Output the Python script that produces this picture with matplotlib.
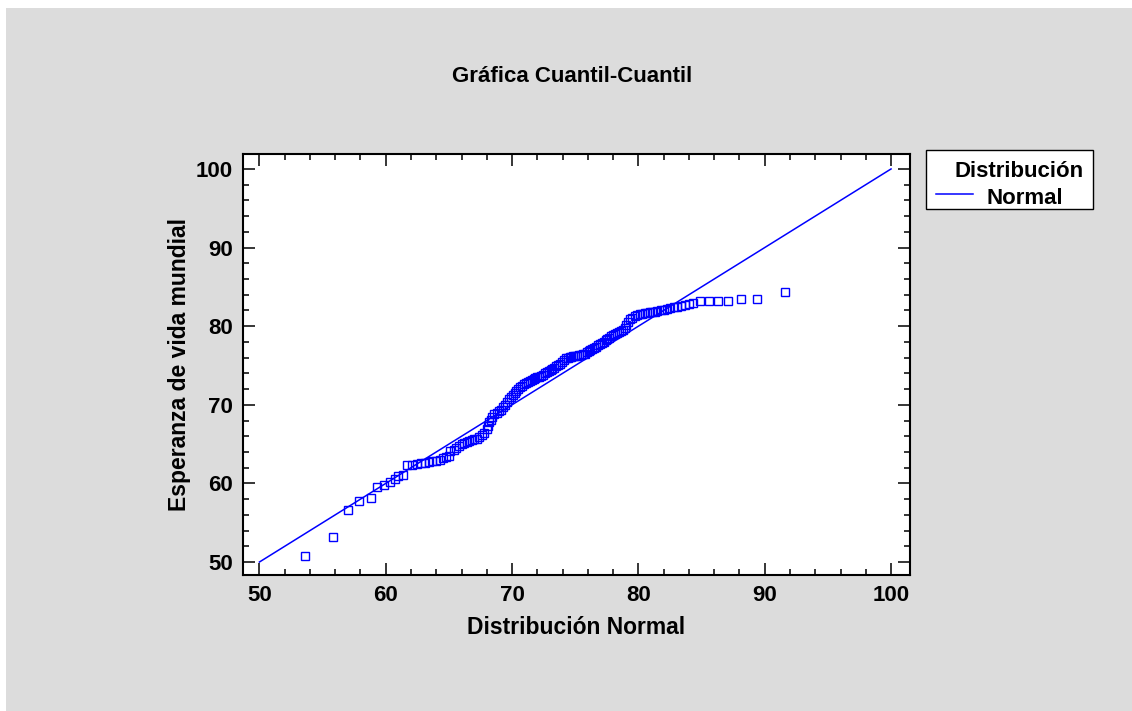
import matplotlib
matplotlib.use("Agg")
import matplotlib.pyplot as plt
from matplotlib.lines import Line2D
from matplotlib.patches import Rectangle
from matplotlib.ticker import MultipleLocator

normal_q = [53.6, 55.8, 57.0, 57.9, 58.8, 59.3, 59.9, 60.3, 60.7, 61.0, 61.4, 61.7,
            62.1, 62.5, 62.8, 63.1, 63.4, 63.7, 64.0, 64.3, 64.5, 64.8, 65.0, 65.1,
            65.4, 65.6, 65.8, 66.0, 66.2, 66.4, 66.6, 66.8, 67.0, 67.2, 67.4, 67.6,
            67.8, 68.0, 68.1, 68.2, 68.3, 68.45, 68.6, 68.8, 68.95, 69.1, 69.3, 69.45,
            69.6, 69.75, 69.9, 70.05, 70.2, 70.35, 70.5, 70.65, 70.8, 70.95, 71.1, 71.25,
            71.4, 71.55, 71.7, 71.85, 72.0, 72.15, 72.3, 72.45, 72.6, 72.75, 72.9, 73.05,
            73.2, 73.35, 73.5, 73.65, 73.8, 73.95, 74.1, 74.25, 74.4, 74.55, 74.7, 74.85,
            75.0, 75.15, 75.3, 75.45, 75.6, 75.75, 75.9, 76.05, 76.2, 76.35, 76.5, 76.65,
            76.8, 76.95, 77.1, 77.25, 77.4, 77.55, 77.7, 77.85, 78.0, 78.15, 78.3, 78.45,
            78.6, 78.75, 78.9, 79.05, 79.2, 79.35, 79.5, 79.7, 79.9, 80.1, 80.3, 80.5,
            80.7, 80.9, 81.1, 81.3, 81.5, 81.75, 82.0, 82.25, 82.5, 82.8, 83.05, 83.35,
            83.65, 84.0, 84.35, 84.9, 85.55, 86.3, 87.1, 88.1, 89.35, 91.6]
life_exp = [50.8, 53.2, 56.6, 57.8, 58.2, 59.5, 59.8, 60.2, 60.6, 60.9, 61.1, 62.3,
            62.4, 62.5, 62.6, 62.6, 62.7, 62.8, 62.9, 63.0, 63.2, 63.3, 63.5, 64.1,
            64.3, 64.5, 64.8, 65.0, 65.2, 65.3, 65.4, 65.5, 65.6, 65.7, 65.9, 66.1,
            66.4, 66.9, 67.3, 67.8, 68.1, 68.5, 68.8, 69.0, 69.2, 69.4, 69.7, 70.0,
            70.4, 70.7, 71.0, 71.2, 71.5, 71.7, 72.0, 72.2, 72.4, 72.6, 72.8, 72.9,
            73.0, 73.1, 73.3, 73.4, 73.5, 73.55, 73.6, 73.8, 74.0, 74.2, 74.3, 74.4,
            74.5, 74.7, 74.9, 75.0, 75.2, 75.5, 75.7, 75.9, 76.0, 76.05, 76.1, 76.15,
            76.2, 76.25, 76.3, 76.35, 76.4, 76.5, 76.7, 76.8, 76.95, 77.1, 77.25, 77.4,
            77.55, 77.7, 77.85, 78.0, 78.2, 78.4, 78.55, 78.7, 78.85, 79.0, 79.1, 79.25,
            79.4, 79.55, 79.8, 80.1, 80.5, 80.9, 81.1, 81.3, 81.4, 81.5, 81.6, 81.65,
            81.7, 81.75, 81.8, 81.85, 81.9, 82.0, 82.1, 82.2, 82.3, 82.4, 82.45, 82.6,
            82.7, 82.8, 82.9, 83.2, 83.2, 83.2, 83.2, 83.4, 83.4, 84.3]

# reference line of the fitted normal
line_x = [50, 100]
line_y = [50, 100]

blue = "#0000ff"
gray = "#dcdcdc"
plt.rcParams["font.family"] = ["Liberation Sans", "DejaVu Sans"]
plt.rcParams["font.weight"] = "bold"

W, H = 1132, 711


def fx(px):
    return px / W


def fy(py):
    return 1 - py / H


fig = plt.figure(figsize=(W / 100, H / 100), dpi=100, facecolor="white")
fig.add_artist(Rectangle((fx(6), 0), 1, fy(8), transform=fig.transFigure,
                         facecolor=gray, edgecolor="none", zorder=-10))

ax = fig.add_axes([fx(243), fy(575), 667 / W, 421 / H])
ax.set_facecolor("white")

ax.plot(line_x, line_y, color=blue, lw=1.1)
ax.plot(normal_q, life_exp, ls="none", marker="s", ms=5.5, mfc="none",
        mec=blue, mew=1.0)

ax.set_xlim(48.7, 101.5)
ax.set_ylim(48.35, 101.9)
ax.xaxis.set_major_locator(MultipleLocator(10))
ax.xaxis.set_minor_locator(MultipleLocator(2))
ax.yaxis.set_major_locator(MultipleLocator(10))
ax.yaxis.set_minor_locator(MultipleLocator(2))
ax.tick_params(which="both", direction="in", top=True, right=True, width=1.1,
               labelsize=16, pad=7.5)
ax.tick_params(which="major", length=8.5)
ax.tick_params(which="minor", length=4.3)
for s in ax.spines.values():
    s.set_linewidth(1.5)

ax.set_xlabel("Distribución Normal", fontsize=16.5, fontweight="bold", labelpad=7)
ax.set_ylabel("Esperanza de vida mundial", fontsize=16.5, fontweight="bold", labelpad=3)
fig.text(fx(572), fy(82), "Gráfica Cuantil-Cuantil", fontsize=16,
         fontweight="bold", ha="center", va="baseline")

# legend box drawn by hand (title right aligned, entry left aligned)
fig.add_artist(Rectangle((fx(926), fy(209)), (1093 - 926) / W, (209 - 150) / H,
                         transform=fig.transFigure, facecolor="white",
                         edgecolor="black", lw=1.0))
fig.text(fx(1084), fy(177), "Distribución", fontsize=16, fontweight="bold",
         ha="right", va="baseline")
fig.add_artist(Line2D([fx(936), fx(973)], [fy(193.5), fy(193.5)],
                      transform=fig.transFigure, color=blue, lw=1.1))
fig.text(fx(986), fy(204), "Normal", fontsize=16, fontweight="bold",
         ha="left", va="baseline")

fig.savefig("out.png", dpi=100, facecolor=fig.get_facecolor())
